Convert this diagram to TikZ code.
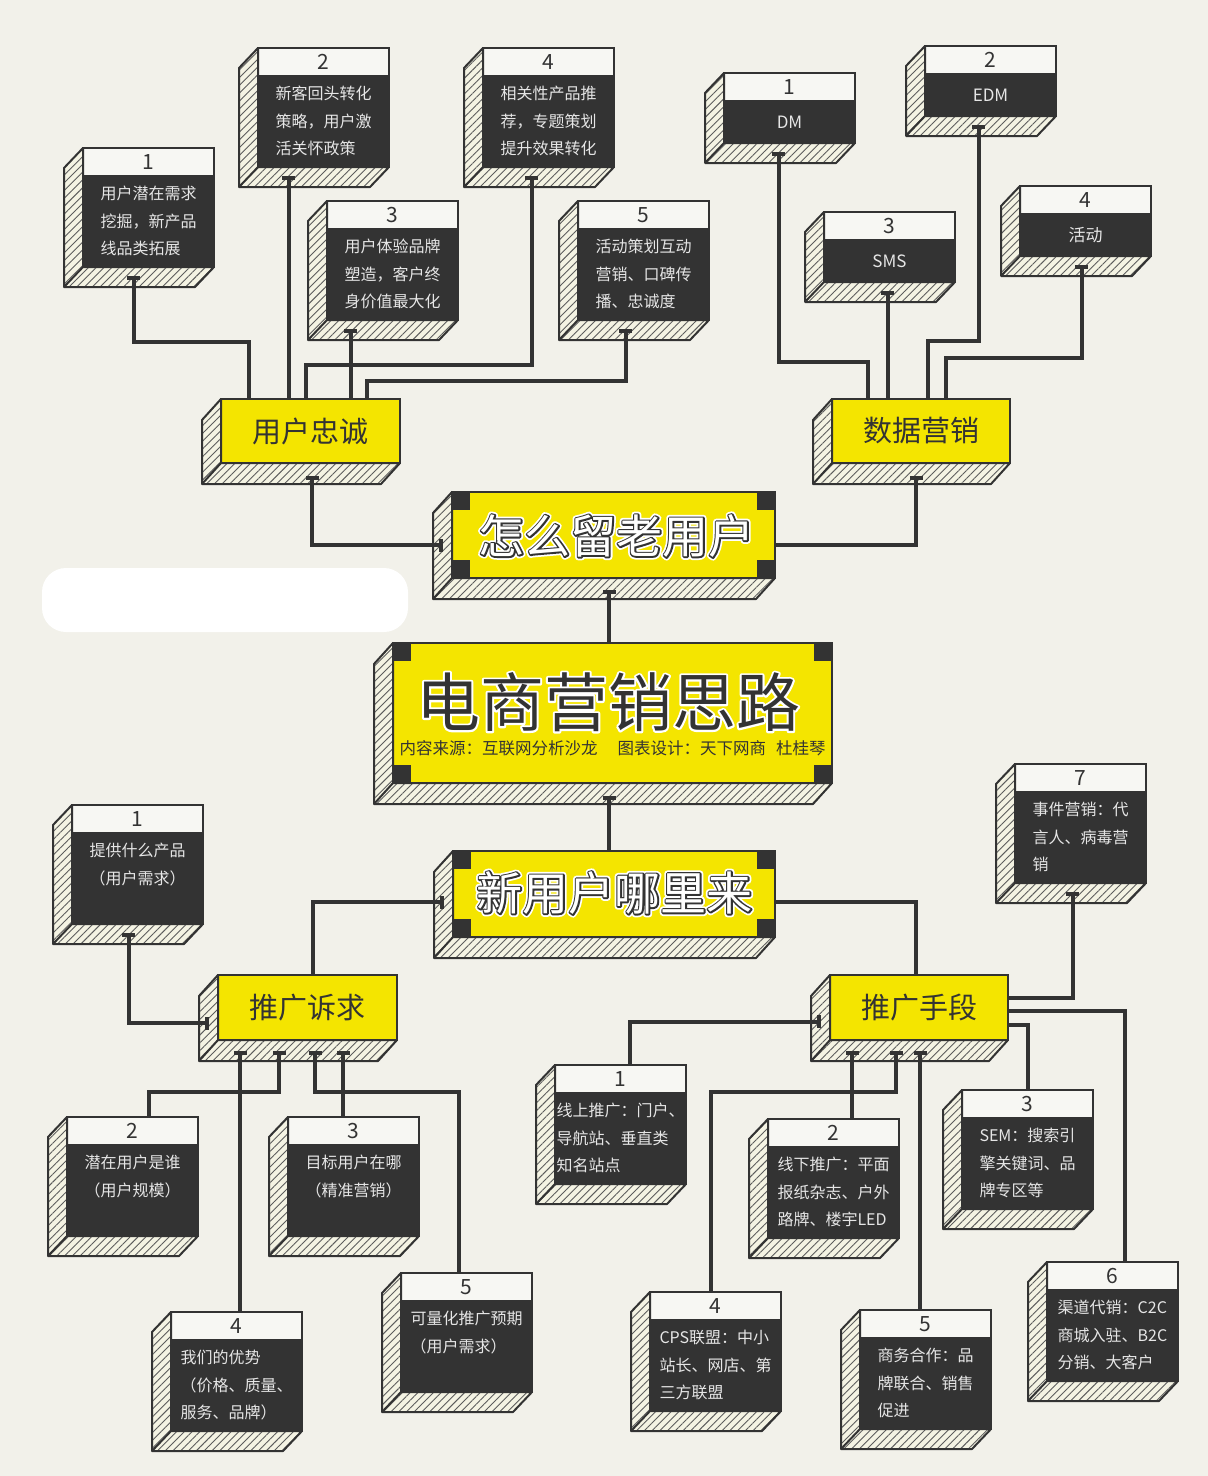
\documentclass[tikz,border=0pt]{standalone}
\usepackage{fontspec}
\setmainfont{Noto Sans CJK SC}
\usetikzlibrary{arrows.meta,calc,patterns.meta}

\definecolor{ink}{HTML}{333333}
\definecolor{paper}{HTML}{F2F1EA}
\definecolor{cream}{HTML}{F4F3E3}
\definecolor{lemon}{HTML}{F4E500}
\definecolor{snow}{HTML}{F7F7F3}
\definecolor{chalk}{HTML}{E6E6E6}
% glyph outlines: #1 render mode, #2 stroke width, #3 stroke colour (rgb), #4 text
\newcommand\outlined[4]{\special{pdf:literal direct q 1 j #2 w #3 RG #1 Tr}#4\special{pdf:literal direct Q}}

\begin{document}
\begin{tikzpicture}[x=1pt,y=-1pt,
  >={Rectangle[length=4pt,width=13pt]},
  link/.style={draw=ink,line width=4pt},
  side/.style={draw=ink,line width=2pt,line join=round,preaction={fill=cream},
    pattern={Lines[angle=45,distance=5.5pt,line width=0.9pt]},pattern color=ink!80},
  crease/.style={draw=ink,line width=2pt},
  card/.style={draw=ink,line width=2.2pt,fill=ink,minimum width=131pt,inner sep=0pt,outer sep=0pt},
  head/.style={draw=ink,line width=2.2pt,fill=snow,minimum width=131pt,minimum height=28pt,
    inner sep=0pt,text=ink,font=\fontsize{21}{21}\selectfont},
  note/.style={text=chalk,align=left,inner sep=0pt,font=\fontsize{16}{27.5}\selectfont},
  hub/.style={draw=ink,line width=2.2pt,fill=lemon,inner sep=0pt,outer sep=0pt,
    text=ink,font=\fontsize{29}{29}\selectfont},
  title/.style={inner sep=0pt,font=\fontsize{46}{46}\selectfont}]

  \useasboundingbox (0,0) rectangle (1208,1476);
  \fill[paper] (0,0) rectangle (1208,1476);
  \fill[white,rounded corners=24pt] (42,568) rectangle (408,632);

  % hubs
  \node[hub,minimum width=179pt,minimum height=64pt] (loyal) at (310.5,431) {用户忠诚};
  \node[hub,minimum width=178pt,minimum height=64pt] (data) at (921,431) {数据营销};
  \node[hub,minimum width=323pt,minimum height=86pt] (keep) at (613.5,535) {};
  \node[hub,minimum width=439pt,minimum height=140pt] (core) at (612.5,713) {};
  \node[hub,minimum width=322pt,minimum height=86pt] (new) at (614,894) {};
  \node[hub,minimum width=179pt,minimum height=65pt] (appeal) at (307.5,1007.5) {推广诉求};
  \node[hub,minimum width=178pt,minimum height=65pt] (means) at (919,1007.5) {推广手段};

  \foreach \b in {loyal,data,keep,core,new,appeal,means}{
    \draw[side] (\b.north west) -- ++(-19,21) |- ($(\b.south east)+(-19,21)$)
      -- (\b.south east) -- (\b.south west) -- cycle;
    \draw[crease] (\b.south west) -- ++(-19,21);}
  \foreach \b in {keep,core,new}
    \foreach \c/\dx/\dy in {north west/18/18,north east/-18/18,south west/18/-18,south east/-18/-18}
      \fill[ink] (\b.\c) rectangle ++(\dx,\dy);

  % titles: stroked copies behind give the halo
  \node[title,font=\fontsize{64}{64}\selectfont,text=white] (core-h) at ($(core)+(-4.5,-11)$)
    {\outlined{1}{4}{1 1 1}{电商营销思路}};
  \node[title,font=\fontsize{64}{64}\selectfont,text=ink] (core-t) at ($(core)+(-4.5,-11)$) {电商营销思路};
  \node[inner sep=0pt,text=ink,font=\fontsize{16.5}{16.5}\selectfont] (core-s) at ($(core)+(0,35)$)
    {内容来源：互联网分析沙龙\hspace{20pt}图表设计：天下网商\hspace{10pt}杜桂琴};
  \foreach \b/\dx/\dy/\txt in {keep/3/1/怎么留老用户,new/0.5/-1/新用户哪里来}{
    \node[title,text=white] (\b-g) at ($(\b)+(\dx,\dy)$) {\outlined{1}{6.5}{1 1 1}{\txt}};
    \node[title,text=ink] (\b-h) at ($(\b)+(\dx,\dy)$) {\outlined{1}{3}{0.2 0.2 0.2}{\txt}};
    \node[title,text=white] (\b-t) at ($(\b)+(\dx,\dy)$) {\txt};}

  % cards with three lines
  \foreach \n/\cx/\cy/\num/\txt in {
    u1/148.5/148/1/{用户潜在需求\\挖掘，新产品\\线品类拓展},
    u2/323.5/48/2/{新客回头转化\\策略，用户激\\活关怀政策},
    u3/392.5/201/3/{用户体验品牌\\塑造，客户终\\身价值最大化},
    u4/548.5/48/4/{相关性产品推\\荐，专题策划\\提升效果转化},
    u5/643.5/201/5/{活动策划互动\\营销、口碑传\\播、忠诚度},
    q1/137.5/805/1/{提供什么产品\\（用户需求）},
    q2/132.5/1117/2/{潜在用户是谁\\（用户规模）},
    q3/353.5/1117/3/{目标用户在哪\\（精准营销）},
    q4/236.5/1312/4/{我们的优势\\（价格、质量、\\服务、品牌）},
    q5/466.5/1273/5/{可量化推广预期\\（用户需求）},
    m1/620.5/1065/1/{线上推广：门户、\\导航站、垂直类\\知名站点},
    m2/833.5/1119/2/{线下推广：平面\\报纸杂志、户外\\路牌、楼宇LED},
    m3/1027.5/1090/3/{SEM：搜索引\\擎关键词、品\\牌专区等},
    m4/715.5/1292/4/{CPS联盟：中小\\站长、网店、第\\三方联盟},
    m5/925.5/1310/5/{商务合作：品\\牌联合、销售\\促进},
    m6/1112.5/1262/6/{渠道代销：C2C\\商城入驻、B2C\\分销、大客户},
    m7/1080.5/764/7/{事件营销：代\\言人、病毒营\\销}}{
    \node[card,minimum height=119pt] (\n) at (\cx,\cy+59.5) {};
    \node[head] (\n-h) at ($(\n.north)+(0,14)$) {\num};
    \node[note,anchor=north] (\n-t) at ($(\n.north)+(0,38)$) {\txt};
    \draw[side] (\n.north west) -- ++(-19,20) |- ($(\n.south east)+(-19,20)$)
      -- (\n.south east) -- (\n.south west) -- cycle;
    \draw[crease] (\n.south west) -- ++(-19,20);}

  % cards with one word
  \foreach \n/\cx/\cy/\num/\txt in {d1/789.5/73/1/DM,d2/990.5/46/2/EDM,d3/889.5/212/3/SMS,d4/1085.5/186/4/活动}{
    \node[card,minimum height=70pt] (\n) at (\cx,\cy+35) {};
    \node[head] (\n-h) at ($(\n.north)+(0,14)$) {\num};
    \node[note,font=\fontsize{17}{17}\selectfont] (\n-t) at ($(\n.north)+(0,49)$) {\txt};
    \draw[side] (\n.north west) -- ++(-19,20) |- ($(\n.south east)+(-19,20)$)
      -- (\n.south east) -- (\n.south west) -- cycle;
    \draw[crease] (\n.south west) -- ++(-19,20);}

  % 用户忠诚
  \draw[link,<-] ($(u1.south)+(-15,9)$) -- ++(0,66) -| ($(loyal.north west)+(28,0)$);
  \draw[link,<-] ($(u2.south)+(-35,9)$) coordinate (a) -- (a |- loyal.north);
  \draw[link,<-] ($(u3.south)+(-42,9)$) coordinate (a) -- (a |- loyal.north);
  \draw[link,<-] ($(u4.south)+(-17,9)$) -- ++(0,189) -| ($(loyal.north west)+(85,0)$);
  \draw[link,<-] ($(u5.south)+(-18,9)$) -- ++(0,52) -| ($(loyal.north west)+(146,0)$);

  % 数据营销
  \draw[link,<-] ($(d1.south)+(-11,9)$) -- ++(0,210) -| ($(data.north west)+(36,0)$);
  \draw[link,<-] ($(d3.south)+(-2,9)$) coordinate (a) -- (a |- data.north);
  \draw[link,<-] ($(d2.south)+(-12,9)$) -- ++(0,216) -| ($(data.north west)+(96,0)$);
  \draw[link,<-] ($(d4.south)+(-4,9)$) -- ++(0,93) -| ($(data.north west)+(114,0)$);

  % spine
  \draw[link,<->] ($(loyal.south)+(1.5,13)$) |- ($(keep.west)+(-9,10)$);
  \draw[link,->] ($(keep.east)+(0,10)$) -| ($(data.south)+(-5,13)$);
  \draw[link,<-] ($(keep.south)+(-4.5,12)$) coordinate (a) -- (a |- core.north);
  \draw[link,<-] ($(core.south)+(-3.5,13)$) coordinate (a) -- (a |- new.north);
  \draw[link,<-] ($(new.west)+(-9,8)$) -| ($(appeal.north west)+(95,0)$);
  \draw[link] ($(new.east)+(0,8)$) -| ($(means.north west)+(86,0)$);

  % 推广诉求
  \draw[link,<->] ($(q1.south)+(-9,9)$) |- ($(appeal.west)+(-9,15.5)$);
  \draw[link,<-] ($(appeal.south west)+(22,11)$) coordinate (a) -- (a |- q4.north);
  \draw[link,<-] ($(appeal.south west)+(61,11)$) -- ++(0,41) -| ($(q2.north)+(16,0)$);
  \draw[link,<-] ($(appeal.south west)+(97,11)$) -- ++(0,41) -| ($(q5.north)+(-8,0)$);
  \draw[link,<-] ($(appeal.south west)+(125,11)$) coordinate (a) -- (a |- q3.north);

  % 推广手段
  \draw[link,<-] ($(m7.south)+(-8,9)$) |- ($(means.east)+(0,-10)$);
  \draw[link,->] ($(m1.north)+(9.5,0)$) |- ($(means.west)+(-9,14)$);
  \draw[link,<-] ($(means.south west)+(22,11)$) coordinate (a) -- (a |- m2.north);
  \draw[link,<-] ($(means.south west)+(66,11)$) -- ++(0,41) -| ($(m4.north)+(-4.5,0)$);
  \draw[link,<-] ($(means.south west)+(90,11)$) coordinate (a) -- (a |- m5.north);
  \draw[link] ($(means.east)+(0,17)$) -| (m3.north);
  \draw[link] ($(means.east)+(0,3)$) -| ($(m6.north)+(12.5,0)$);
\end{tikzpicture}
\end{document}
